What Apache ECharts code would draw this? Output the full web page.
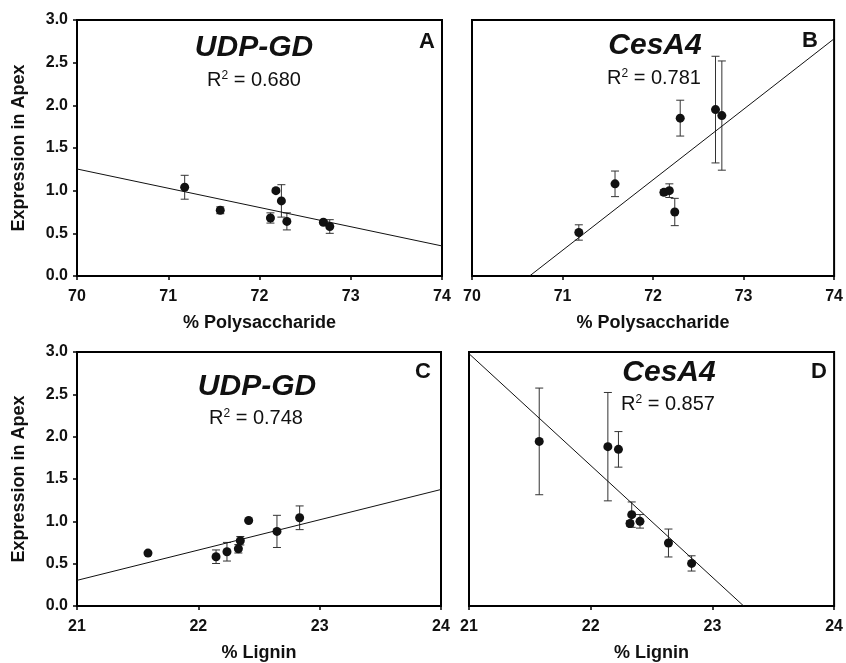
<!DOCTYPE html>
<html>
<head>
<meta charset="utf-8">
<script src="https://cdn.jsdelivr.net/npm/echarts@6/dist/echarts.min.js"></script>
<style>
  html, body { margin: 0; padding: 0; background: #fff; }
  #chart { width: 846px; height: 663px; }
</style>
</head>
<body>
<div id="chart"></div>
<script>
// Four panels: gene expression in apex vs. % polysaccharide (A, B) and % lignin (C, D).
// Error bars are drawn with a custom series through the axis coords.

// Panel A: UDP-GD vs % polysaccharide
const polyA = [71.18, 71.57, 72.12, 72.18, 72.24, 72.30, 72.70, 72.77]
const udpA = [1.04, 0.77, 0.68, 1.00, 0.88, 0.64, 0.63, 0.58]
const udpAErr = [0.14, 0.04, 0.06, 0.02, 0.19, 0.10, 0.02, 0.08]
const fitA = [[70, 1.254], [74, 0.352]]

// Panel B: CesA4 vs % polysaccharide
const polyB = [71.18, 71.58, 72.12, 72.18, 72.24, 72.30, 72.69, 72.76]
const cesB = [0.51, 1.08, 0.98, 1.00, 0.75, 1.85, 1.95, 1.88]
const cesBErr = [0.09, 0.15, 0.03, 0.08, 0.16, 0.21, 0.625, 0.64]
const fitB = [[70.636, 0], [74, 2.78]]

// Panel C: UDP-GD vs % lignin
const ligC = [21.585, 22.146, 22.236, 22.33, 22.346, 22.415, 22.648, 22.835]
const udpC = [0.625, 0.582, 0.641, 0.676, 0.771, 1.01, 0.881, 1.042]
const udpCErr = [0.02, 0.08, 0.11, 0.05, 0.05, 0.01, 0.19, 0.14]
const fitC = [[21, 0.303], [24, 1.376]]

// Panel D: CesA4 vs % lignin
const ligD = [21.577, 22.141, 22.228, 22.323, 22.337, 22.405, 22.639, 22.829]
const cesD = [1.944, 1.882, 1.850, 0.974, 1.079, 1.0, 0.744, 0.503]
const cesDErr = [0.63, 0.64, 0.21, 0.03, 0.15, 0.08, 0.165, 0.09]
const fitD = [[21, 2.98], [23.257, 0]]

const panels = [
  { x: polyA, y: udpA, err: udpAErr, fit: fitA, xmin: 70, xmax: 74, xname: '% Polysaccharide',
    gene: 'UDP-GD', r2: '0.680', letter: 'A', yLabels: true },
  { x: polyB, y: cesB, err: cesBErr, fit: fitB, xmin: 70, xmax: 74, xname: '% Polysaccharide',
    gene: 'CesA4', r2: '0.781', letter: 'B', yLabels: false },
  { x: ligC, y: udpC, err: udpCErr, fit: fitC, xmin: 21, xmax: 24, xname: '% Lignin',
    gene: 'UDP-GD', r2: '0.748', letter: 'C', yLabels: true },
  { x: ligD, y: cesD, err: cesDErr, fit: fitD, xmin: 21, xmax: 24, xname: '% Lignin',
    gene: 'CesA4', r2: '0.857', letter: 'D', yLabels: false },
]

const FONT = '"Liberation Sans", Arial, Helvetica, sans-serif'
const INK = '#111'

// plot boxes and text anchors (pixels, layout only)
const boxes = [
  { left: 77, top: 20, width: 365, height: 256 },
  { left: 472, top: 20, width: 366, height: 256 },
  { left: 77, top: 352, width: 364, height: 255 },
  { left: 469, top: 352, width: 367, height: 256 },
]
const anchors = [
  { gene: [254, 48], r2: [254, 80], letter: [427, 42] },
  { gene: [655, 46], r2: [654, 78], letter: [810, 41] },
  { gene: [257, 387], r2: [256, 418], letter: [423, 372] },
  { gene: [669, 373], r2: [668, 404], letter: [819, 372] },
]

function errRender(params, api) {
  const x = api.value(0)
  const y = api.value(1)
  const e = api.value(2)
  const top = api.coord([x, y + e])
  const bot = api.coord([x, y - e])
  const hw = 4
  const style = { stroke: '#333', lineWidth: 1 }
  return {
    type: 'group',
    children: [
      { type: 'line', shape: { x1: top[0], y1: top[1], x2: bot[0], y2: bot[1] }, style },
      { type: 'line', shape: { x1: top[0] - hw, y1: top[1], x2: top[0] + hw, y2: top[1] }, style },
      { type: 'line', shape: { x1: bot[0] - hw, y1: bot[1], x2: bot[0] + hw, y2: bot[1] }, style },
    ],
  }
}

const grid = boxes.map((b) => ({ ...b, show: true, borderColor: '#000', borderWidth: 2, containLabel: false }))

const xAxis = panels.map((p, i) => ({
  type: 'value',
  gridIndex: i,
  min: p.xmin,
  max: p.xmax,
  interval: 1,
  name: p.xname,
  nameLocation: 'middle',
  nameGap: 38,
  nameTextStyle: { fontFamily: FONT, fontSize: 18, fontWeight: 'bold', color: INK },
  axisLine: { show: true, onZero: false, lineStyle: { color: '#000', width: 2 } },
  axisTick: { show: true, inside: false, length: 4, lineStyle: { color: '#000', width: 1.5 } },
  axisLabel: { fontFamily: FONT, fontSize: 16, fontWeight: 'bold', color: INK, margin: 13 },
  splitLine: { show: false },
}))

const yAxis = panels.map((p, i) => ({
  type: 'value',
  gridIndex: i,
  min: 0,
  max: 3,
  interval: 0.5,
  name: p.yLabels ? 'Expression in Apex' : '',
  nameLocation: 'middle',
  nameGap: 49,
  nameTextStyle: { fontFamily: FONT, fontSize: 18, fontWeight: 'bold', color: INK },
  axisLine: { show: true, onZero: false, lineStyle: { color: '#000', width: 2 } },
  axisTick: { show: p.yLabels, inside: false, length: 4, lineStyle: { color: '#000', width: 1.5 } },
  axisLabel: {
    show: p.yLabels,
    fontFamily: FONT, fontSize: 16, fontWeight: 'bold', color: INK, margin: 9,
    formatter: (v) => v.toFixed(1),
  },
  splitLine: { show: false },
}))

const series = []
panels.forEach((p, i) => {
  series.push({
    type: 'line',
    xAxisIndex: i,
    yAxisIndex: i,
    data: p.fit,
    showSymbol: false,
    silent: true,
    lineStyle: { color: INK, width: 1 },
  })
  series.push({
    type: 'custom',
    xAxisIndex: i,
    yAxisIndex: i,
    data: p.x.map((x, k) => [x, p.y[k], p.err[k]]),
    renderItem: errRender,
    silent: true,
  })
  series.push({
    type: 'scatter',
    xAxisIndex: i,
    yAxisIndex: i,
    data: p.x.map((x, k) => [x, p.y[k]]),
    symbol: 'circle',
    symbolSize: 9,
    itemStyle: { color: INK, opacity: 1 },
  })
})

const graphic = []
panels.forEach((p, i) => {
  const a = anchors[i]
  graphic.push({
    type: 'text', x: a.gene[0], y: a.gene[1],
    style: { text: p.gene, font: 'italic bold 30px ' + FONT, fill: INK, align: 'center', verticalAlign: 'middle' },
  })
  graphic.push({
    type: 'text', x: a.r2[0], y: a.r2[1],
    style: {
      text: 'R{sup|2} = ' + p.r2,
      font: '20px ' + FONT, fill: INK, align: 'center', verticalAlign: 'middle',
      rich: { sup: { font: '12px ' + FONT, fill: INK, padding: [0, 0, 9, 0] } },
    },
  })
  graphic.push({
    type: 'text', x: a.letter[0], y: a.letter[1],
    style: { text: p.letter, font: 'bold 22px ' + FONT, fill: INK, align: 'center', verticalAlign: 'middle' },
  })
})

const chart = echarts.init(document.getElementById('chart'), null, { renderer: 'canvas' })
chart.setOption({
  backgroundColor: '#fff',
  animation: false,
  grid,
  xAxis,
  yAxis,
  series,
  graphic,
})
</script>
</body>
</html>
